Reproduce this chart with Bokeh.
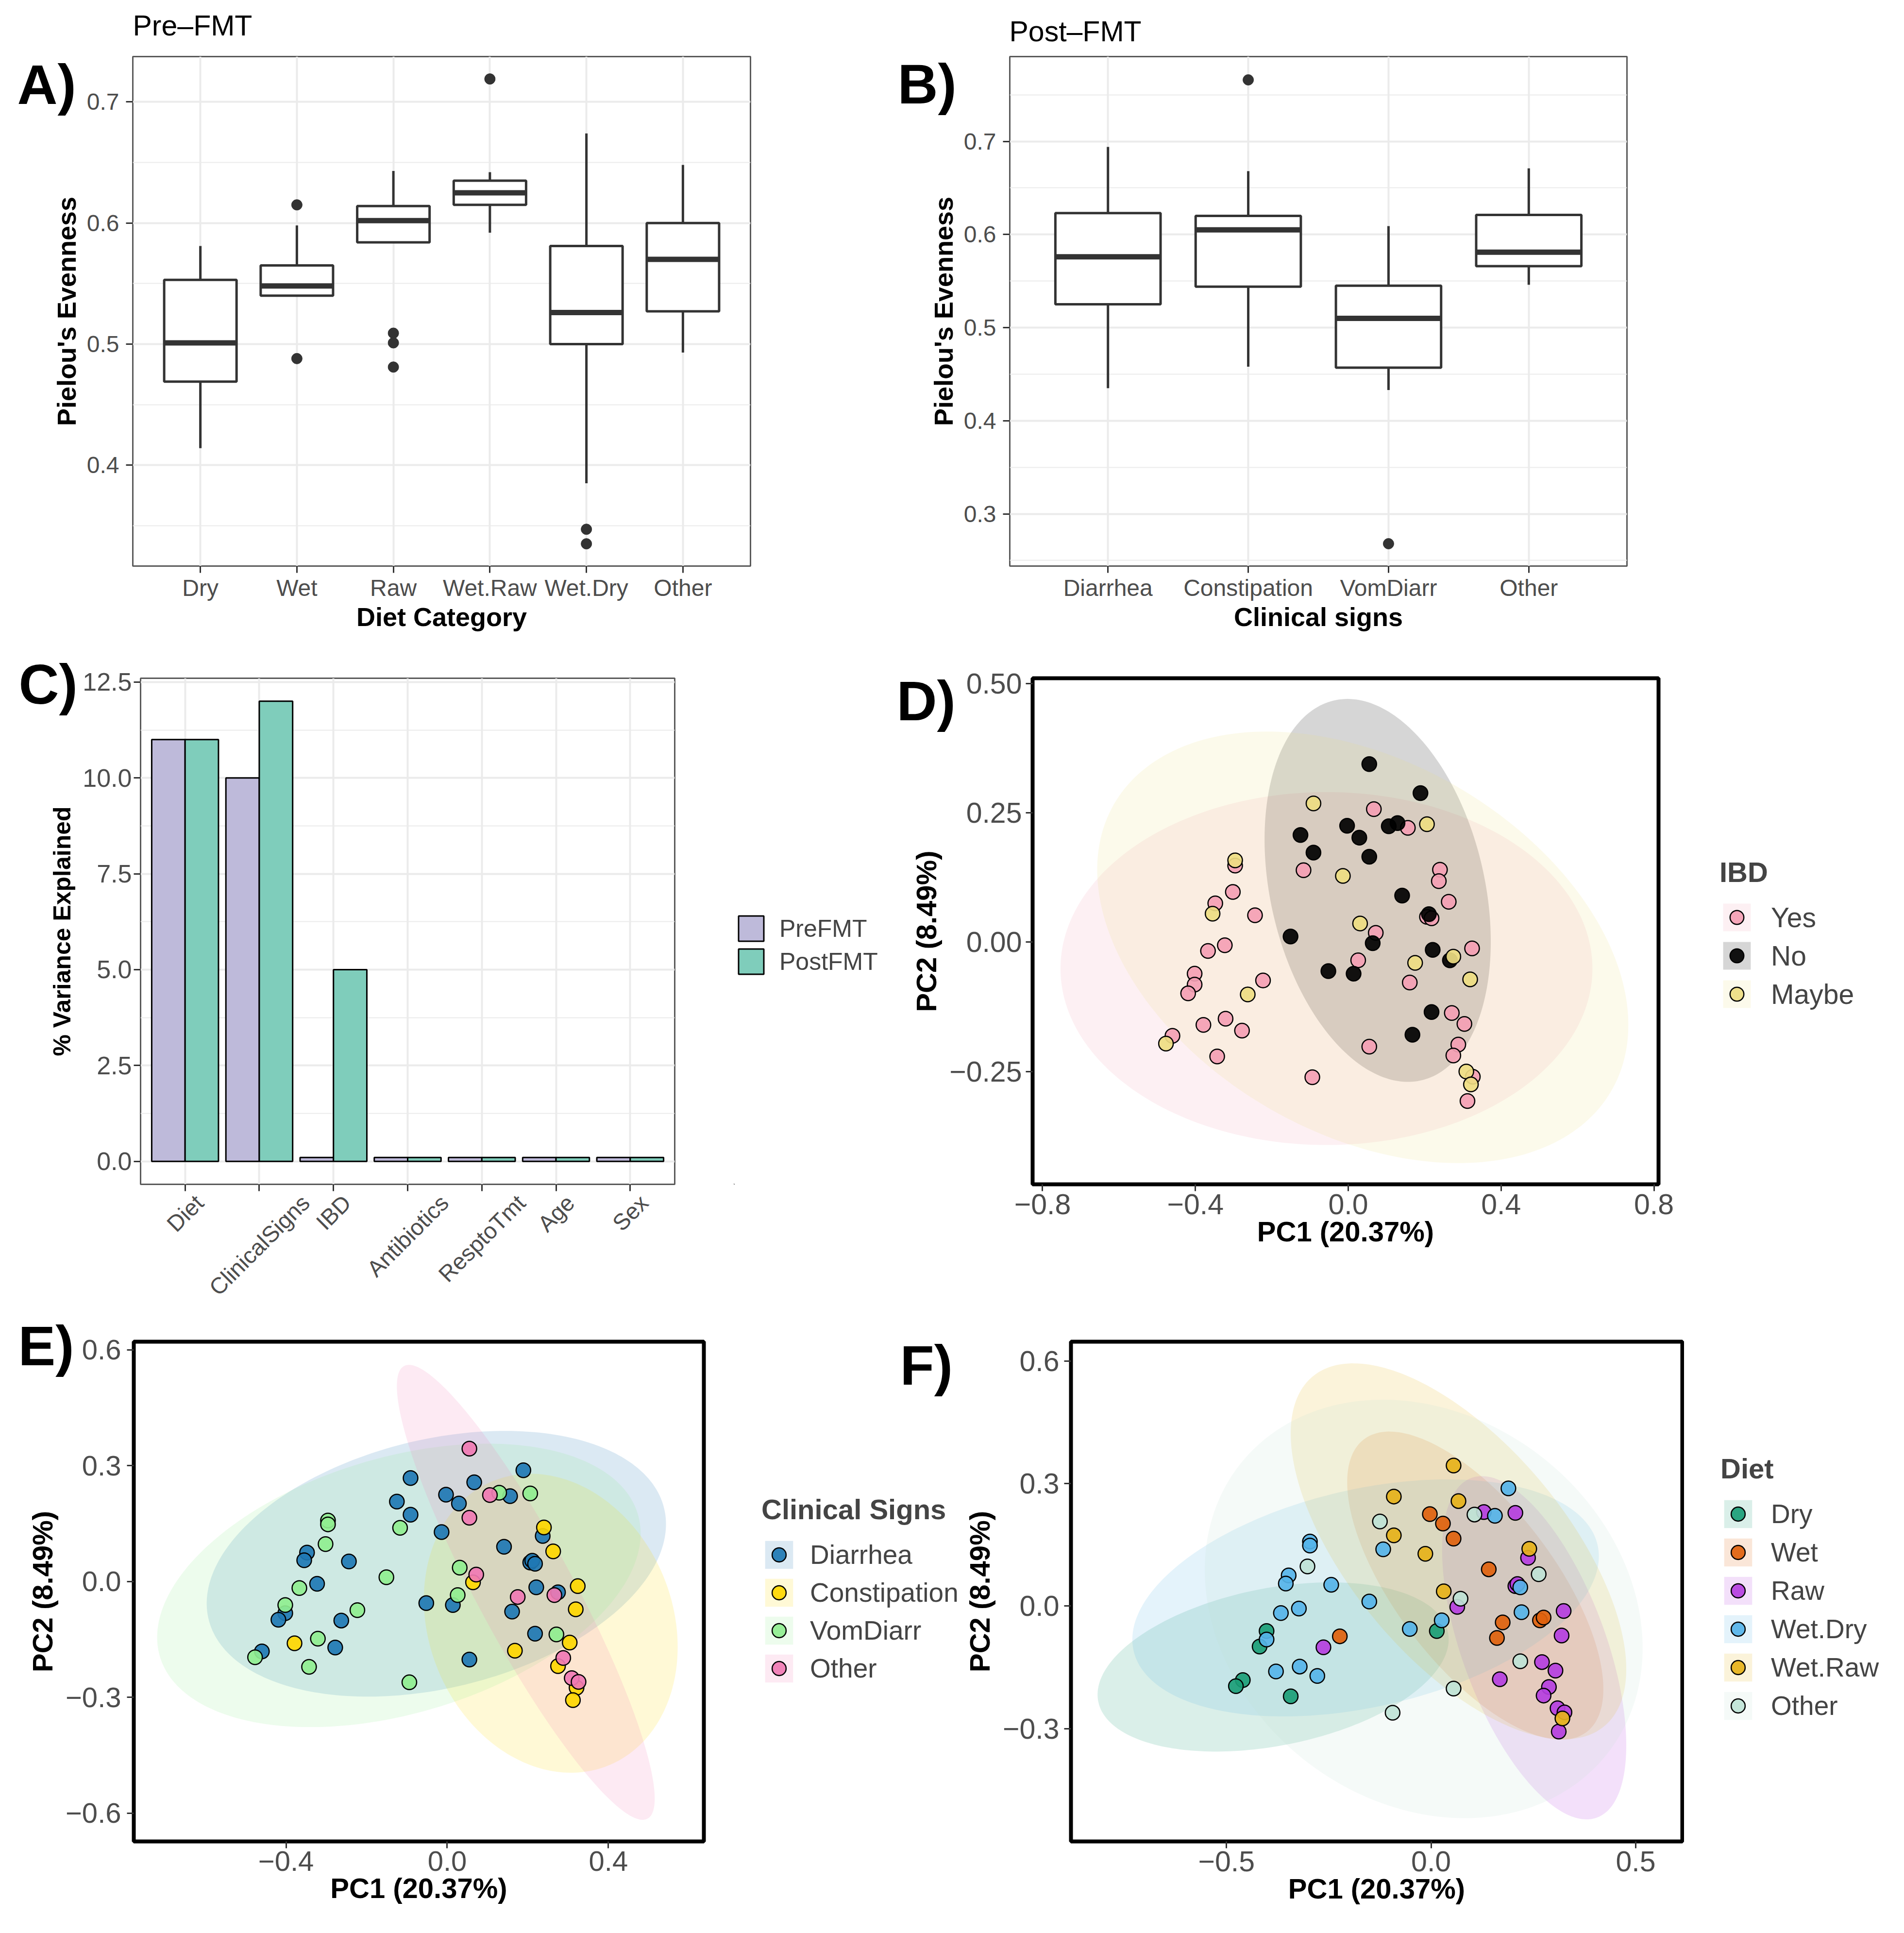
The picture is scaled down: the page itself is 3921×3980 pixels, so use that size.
import numpy as np
from bokeh.plotting import figure
from bokeh.models import (FactorRange, Range1d, FixedTicker, Label, Legend, LegendItem,
                          LinearAxis)
from bokeh.layouts import row, column
from bokeh.embed import file_html
from bokeh.resources import INLINE

FONT = "Liberation Sans"
MINUS = "\u2212"

# ---------------- Panel A data: Pre-FMT evenness by diet ----------------
diet_cats = ["Dry", "Wet", "Raw", "Wet.Raw", "Wet.Dry", "Other"]
a_low = [0.414, 0.540, 0.584, 0.592, 0.385, 0.493]
a_q1 = [0.469, 0.540, 0.584, 0.615, 0.500, 0.527]
a_med = [0.501, 0.548, 0.602, 0.625, 0.526, 0.570]
a_q3 = [0.553, 0.565, 0.614, 0.635, 0.581, 0.600]
a_high = [0.581, 0.598, 0.643, 0.642, 0.674, 0.648]
a_out_cat = ["Wet", "Wet", "Raw", "Raw", "Raw", "Wet.Raw", "Wet.Dry", "Wet.Dry"]
a_out_val = [0.615, 0.488, 0.509, 0.501, 0.481, 0.719, 0.347, 0.335]
a_yticks = [0.4, 0.5, 0.6, 0.7]
a_yminor = [0.35, 0.45, 0.55, 0.65]

# ---------------- Panel B data: Post-FMT evenness by clinical signs ----------------
clin_cats = ["Diarrhea", "Constipation", "VomDiarr", "Other"]
b_low = [0.435, 0.458, 0.433, 0.546]
b_q1 = [0.525, 0.544, 0.457, 0.566]
b_med = [0.576, 0.605, 0.510, 0.581]
b_q3 = [0.623, 0.620, 0.545, 0.621]
b_high = [0.694, 0.668, 0.609, 0.671]
b_out_cat = ["Constipation", "VomDiarr"]
b_out_val = [0.766, 0.268]
b_yticks = [0.3, 0.4, 0.5, 0.6, 0.7]
b_yminor = [0.25, 0.35, 0.45, 0.55, 0.65, 0.75]

# ---------------- Panel C data: % variance explained ----------------
c_vars = ["Diet", "ClinicalSigns", "IBD", "Antibiotics", "ResptoTmt", "Age", "Sex"]
c_pre = [11.0, 10.0, 0.1, 0.1, 0.1, 0.1, 0.1]
c_post = [11.0, 12.0, 5.0, 0.1, 0.1, 0.1, 0.1]
c_yticks = [0.0, 2.5, 5.0, 7.5, 10.0, 12.5]
c_ylabels = ["0.0", "2.5", "5.0", "7.5", "10.0", "12.5"]
c_yminor = [1.25, 3.75, 6.25, 8.75, 11.25]
c_series = ["PreFMT", "PostFMT"]
c_colors = ["#BEBADA", "#7FCDBB"]

# ---------------- Panels D-F data: PCoA samples ----------------
pc1 = [0.055, 0.189, -0.091, 0.067, 0.206, 0.106, 0.129, 0.156, -0.125, -0.003,
       0.029, -0.091, 0.055, -0.296, -0.296, -0.117, -0.014, 0.240, 0.237, -0.302,
       0.141, 0.263, -0.348, -0.355, -0.244, 0.206, 0.211, 0.218, 0.031, -0.151,
       0.072, -0.323, 0.064, -0.367, 0.324, 0.221, 0.266, 0.275, 0.175, 0.026,
       -0.052, 0.014, -0.402, 0.319, -0.223, 0.161, -0.402, -0.419, -0.263, 0.218,
       0.271, -0.321, 0.304, -0.379, -0.278, 0.168, -0.460, -0.477, 0.288, 0.055,
       -0.343, 0.275, 0.309, 0.326, -0.094, 0.321, 0.312]
pc2 = [0.344, 0.288, 0.268, 0.257, 0.228, 0.224, 0.230, 0.221, 0.207, 0.225,
       0.202, 0.173, 0.165, 0.158, 0.148, 0.139, 0.128, 0.140, 0.118, 0.097,
       0.090, 0.078, 0.075, 0.055, 0.052, 0.049, 0.054, 0.046, 0.036, 0.011,
       0.018, -0.006, -0.002, -0.017, -0.012, -0.015, -0.035, -0.028, -0.040, -0.035,
       -0.056, -0.061, -0.061, -0.072, -0.074, -0.078, -0.082, -0.099, -0.101, -0.135,
       -0.137, -0.148, -0.158, -0.160, -0.171, -0.179, -0.181, -0.196, -0.198, -0.202,
       -0.221, -0.219, -0.250, -0.260, -0.261, -0.275, -0.307]
ibd = ["No", "No", "Maybe", "Yes", "Maybe", "No", "No", "Yes", "No", "No",
       "No", "No", "No", "Maybe", "Yes", "Yes", "Maybe", "Yes", "Yes", "Yes",
       "No", "Yes", "Yes", "Maybe", "Yes", "Yes", "No", "Yes", "Maybe", "No",
       "Yes", "Yes", "No", "Yes", "Yes", "No", "No", "Maybe", "Maybe", "Yes",
       "No", "No", "Yes", "Maybe", "Yes", "Yes", "Yes", "Yes", "Maybe", "No",
       "Yes", "Yes", "Yes", "Yes", "Yes", "No", "Yes", "Maybe", "Yes", "Yes",
       "Yes", "Yes", "Maybe", "Yes", "Yes", "Maybe", "Yes"]
clin = ["Other", "Diarrhea", "Diarrhea", "Diarrhea", "VomDiarr", "Other", "VomDiarr", "Diarrhea", "Diarrhea", "Diarrhea",
        "Diarrhea", "Diarrhea", "Other", "VomDiarr", "VomDiarr", "VomDiarr", "Diarrhea", "Constipation", "Diarrhea", "VomDiarr",
        "Diarrhea", "Constipation", "Diarrhea", "Diarrhea", "Diarrhea", "Diarrhea", "Diarrhea", "Diarrhea", "VomDiarr", "VomDiarr",
        "Other", "Diarrhea", "Constipation", "VomDiarr", "Constipation", "Diarrhea", "Other", "Diarrhea", "Other", "VomDiarr",
        "Diarrhea", "Diarrhea", "VomDiarr", "Constipation", "VomDiarr", "Diarrhea", "Diarrhea", "Diarrhea", "Diarrhea", "Diarrhea",
        "VomDiarr", "VomDiarr", "Constipation", "Constipation", "Diarrhea", "Constipation", "Diarrhea", "VomDiarr", "Other", "Diarrhea",
        "VomDiarr", "Constipation", "Other", "Other", "VomDiarr", "Constipation", "Constipation"]
diet = ["Wet.Raw", "Wet.Dry", "Wet.Raw", "Wet.Raw", "Raw", "Other", "Raw", "Wet.Dry", "Other", "Wet",
        "Wet", "Wet.Raw", "Wet", "Wet.Dry", "Wet.Dry", "Wet.Dry", "Wet.Raw", "Wet.Raw", "Raw", "Other",
        "Wet", "Other", "Wet.Dry", "Wet.Dry", "Wet.Dry", "Raw", "Raw", "Wet.Dry", "Wet.Raw", "Wet.Dry",
        "Other", "Wet.Dry", "Raw", "Wet.Dry", "Raw", "Wet.Dry", "Wet", "Wet", "Wet", "Wet.Dry",
        "Wet.Dry", "Dry", "Dry", "Raw", "Wet", "Wet", "Wet.Dry", "Dry", "Raw", "Other",
        "Raw", "Wet.Dry", "Raw", "Wet.Dry", "Wet.Dry", "Raw", "Dry", "Dry", "Raw", "Other",
        "Dry", "Raw", "Raw", "Raw", "Other", "Wet.Raw", "Raw"]

# groups, colours, ellipse parameters (centre, half x/y extents, x-offset of the top point)
d_groups = ["Yes", "No", "Maybe"]
d_colors = ["#F4A0B4", "#000000", "#EEDD82"]
d_ell_cx = [-0.057, 0.077, 0.038]
d_ell_cy = [-0.051, 0.100, -0.010]
d_ell_rx = [0.696, 0.296, 0.695]
d_ell_ry = [0.341, 0.370, 0.417]
d_ell_topdx = [0.0, -0.079, -0.25]
d_xticks = [-0.8, -0.4, 0.0, 0.4, 0.8]
d_xlabels = [MINUS + "0.8", MINUS + "0.4", "0.0", "0.4", "0.8"]
d_yticks = [-0.25, 0.0, 0.25, 0.5]
d_ylabels = [MINUS + "0.25", "0.00", "0.25", "0.50"]

e_groups = ["Diarrhea", "Constipation", "VomDiarr", "Other"]
e_colors = ["#1F78B4", "#FFD700", "#90EE90", "#F07AB4"]
e_ell_cx = [-0.027, 0.257, -0.120, 0.195]
e_ell_cy = [0.046, -0.108, -0.010, -0.028]
e_ell_rx = [0.570, 0.315, 0.600, 0.320]
e_ell_ry = [0.344, 0.387, 0.367, 0.589]
e_ell_topdx = [0.17, -0.05, 0.22, -0.29]
e_xticks = [-0.4, 0.0, 0.4]
e_xlabels = [MINUS + "0.4", "0.0", "0.4"]
e_yticks = [-0.6, -0.3, 0.0, 0.3, 0.6]
e_ylabels = [MINUS + "0.6", MINUS + "0.3", "0.0", "0.3", "0.6"]

f_groups = ["Dry", "Wet", "Raw", "Wet.Dry", "Wet.Raw", "Other"]
f_colors = ["#1B9E77", "#E0620D", "#B53FE0", "#56B4E9", "#E6B21A", "#BFE3D6"]
f_ell_cx = [-0.386, 0.108, 0.252, -0.160, 0.067, -0.018]
f_ell_cy = [-0.149, 0.050, -0.102, 0.020, 0.134, -0.007]
f_ell_rx = [0.429, 0.313, 0.225, 0.570, 0.410, 0.535]
f_ell_ry = [0.207, 0.377, 0.420, 0.290, 0.460, 0.512]
f_ell_topdx = [0.14, -0.21, -0.128, 0.20, -0.257, -0.10]
f_xticks = [-0.5, 0.0, 0.5]
f_xlabels = [MINUS + "0.5", "0.0", "0.5"]
f_yticks = [-0.3, 0.0, 0.3, 0.6]
f_ylabels = [MINUS + "0.3", "0.0", "0.3", "0.6"]

PC1_TITLE = "PC1 (20.37%)"
PC2_TITLE = "PC2 (8.49%)"

LETTER_PX = 115
REG_W = {'A': .667, 'B': .667, 'C': .722, 'D': .722, 'I': .278, 'R': .722, 'S': .667,
         'T': .611, 'a': .556, 'b': .556, 'c': .5, 'e': .556, 'g': .556, 'i': .222,
         'l': .222, 'm': .833, 'n': .556, 'o': .556, 'p': .556, 'r': .333, 's': .5,
         't': .278, 'x': .5}

# off-canvas spot for the legend-only key glyphs (legend strips span 0..1)
HIDE = -10.0


# ---------------- helpers ----------------
def make_fig(w, h, xr, yr, bl, br, bt, bb):
    p = figure(width=w, height=h, x_range=xr, y_range=yr, output_backend="svg",
               toolbar_location=None, min_border_left=bl, min_border_right=br,
               min_border_top=bt, min_border_bottom=bb)
    p.background_fill_color = "white"
    p.border_fill_color = "white"
    return p


def legend_fig(w, h, bt, bb):
    # an axis-less strip whose frame holds a legend (and possibly a panel letter)
    p = figure(width=w, height=h, x_range=Range1d(0, 1), y_range=Range1d(0, 1),
               output_backend="svg", toolbar_location=None, x_axis_location=None,
               y_axis_location=None, min_border_left=0, min_border_right=0,
               min_border_top=bt, min_border_bottom=bb)
    p.grid.visible = False
    p.outline_line_color = None
    p.background_fill_color = "white"
    p.border_fill_color = "white"
    return p


def style_axes(p, tick_px, title_px, xstand=4, ystand=14, xlab_stand=0, ylab_stand=10):
    for ax in p.axis:
        ax.axis_line_color = None
        ax.major_tick_line_color = "#333333"
        ax.major_tick_line_width = 3
        ax.major_tick_out = 14
        ax.major_tick_in = 0
        ax.minor_tick_line_color = None
        ax.major_label_text_font = FONT
        ax.major_label_text_font_size = f"{tick_px}px"
        ax.major_label_text_color = "#4D4D4D"
        ax.axis_label_text_font = FONT
        ax.axis_label_text_font_size = f"{title_px}px"
        ax.axis_label_text_font_style = "bold"
        ax.axis_label_text_color = "black"
    p.xaxis.major_label_standoff = xstand
    p.yaxis.major_label_standoff = ystand
    p.xaxis.axis_label_standoff = xlab_stand
    p.yaxis.axis_label_standoff = ylab_stand


def style_bw(p, ticks, minor):
    p.outline_line_color = "#5A5A5A"
    p.outline_line_width = 3
    t = FixedTicker(ticks=ticks, minor_ticks=minor)
    p.yaxis.ticker = t
    p.ygrid.ticker = t
    p.grid.grid_line_color = "#EBEBEB"
    p.grid.grid_line_width = 4
    p.ygrid.minor_grid_line_color = "#EBEBEB"
    p.ygrid.minor_grid_line_width = 2


def style_pcoa(p, xt, xl, yt, yl):
    p.outline_line_color = "black"
    p.outline_line_width = 8
    p.grid.visible = False
    p.xaxis.ticker = FixedTicker(ticks=xt)
    p.yaxis.ticker = FixedTicker(ticks=yt)
    p.xaxis.major_label_overrides = dict(zip(xt, xl))
    p.yaxis.major_label_overrides = dict(zip(yt, yl))


def text_label(x, y, text, size, bold=False):
    return Label(x=x, y=y, x_units="screen", y_units="screen", text=text,
                 text_font=FONT, text_font_size=f"{size}px",
                 text_font_style="bold" if bold else "normal",
                 text_color="black", text_baseline="middle", text_align="left")


def side_text(p, side, x, y, text, size, bold=False):
    p.add_layout(text_label(x, y, text, size, bold), side)


def ellipse_xy(cx, cy, rx, ry, topdx, n=240):
    t = np.linspace(0, 2 * np.pi, n)
    phi = np.arccos(np.clip(topdx / rx, -1, 1))
    return cx + rx * np.cos(t), cy + ry * np.cos(t + phi)


def boxplot(p, cats, low, q1, med, q3, high, oc, ov):
    p.segment(x0=cats, y0=q3, x1=cats, y1=high, line_color="#333333", line_width=5)
    p.segment(x0=cats, y0=low, x1=cats, y1=q1, line_color="#333333", line_width=5)
    p.vbar(x=cats, width=0.75, bottom=q1, top=q3, fill_color="white",
           line_color="#333333", line_width=5)
    p.rect(x=cats, y=med, width=0.75, height=11, height_units="screen",
           fill_color="#333333", line_color=None)
    p.scatter(x=oc, y=ov, size=22, fill_color="#333333", line_color="#333333")


ELL_ALPHA = 0.16
PT_ALPHA = 0.92


def pcoa(p, groups, colors, key, cx, cy, rx, ry, tdx):
    arr_x = np.array(pc1)
    arr_y = np.array(pc2)
    keys = np.array(key)
    for i, g in enumerate(groups):
        ex, ey = ellipse_xy(cx[i], cy[i], rx[i], ry[i], tdx[i])
        p.patch(ex, ey, fill_color=colors[i], fill_alpha=ELL_ALPHA, line_color=None)
    for i, g in enumerate(groups):
        m = keys == g
        p.scatter(arr_x[m], arr_y[m], size=30, fill_color=colors[i], fill_alpha=PT_ALPHA,
                  line_color="black", line_width=2.5)


def pcoa_legend(lf, groups, colors, title, loc, glyph, spacing, lab_px, standoff):
    items = []
    for g, c in zip(groups, colors):
        bg = lf.patch(x=[HIDE, HIDE + 0.1, HIDE + 0.1], y=[HIDE, HIDE, HIDE + 0.1],
                      fill_color=c, fill_alpha=ELL_ALPHA, line_color=None)
        pt = lf.scatter(x=[HIDE], y=[HIDE], size=30, fill_color=c, fill_alpha=PT_ALPHA,
                        line_color="black", line_width=2.5)
        items.append(LegendItem(label=g, renderers=[bg, pt]))
    leg = Legend(items=items, location=loc, title=title, padding=0, margin=0,
                 spacing=spacing, glyph_width=glyph, glyph_height=glyph, label_height=glyph,
                 label_standoff=standoff, label_text_font=FONT, label_text_font_size=f"{lab_px}px",
                 title_text_font=FONT, title_text_font_size="58px",
                 title_text_font_style="bold", title_standoff=24,
                 border_line_color=None, background_fill_alpha=0)
    lf.add_layout(leg)


# ================= Row 1 : A, B =================
# A frame: left 281, right 1553, top 124, bottom 1173 (page px)
pA = make_fig(1800, 1322,
              FactorRange(factors=diet_cats, range_padding=0.2, range_padding_units="absolute"),
              Range1d(0.3166, 0.7375), 273, 255, 116, 157)
style_bw(pA, a_yticks, a_yminor)
boxplot(pA, diet_cats, a_low, a_q1, a_med, a_q3, a_high, a_out_cat, a_out_val)
pA.xaxis.axis_label = "Diet Category"
pA.yaxis.axis_label = "Pielou's Evenness"
style_axes(pA, 48, 54, xstand=4, ystand=14, xlab_stand=0, ylab_stand=9)
side_text(pA, "right", 43 - 1553, 1173 - 181, "A)", LETTER_PX, bold=True)
side_text(pA, "above", 0, 124 - 60, "Pre\u2013FMT", 59)

# B frame: left 2087, right 3358
pB = make_fig(2105, 1322,
              FactorRange(factors=clin_cats, range_padding=0.2, range_padding_units="absolute"),
              Range1d(0.244, 0.791), 279, 555, 116, 157)
style_bw(pB, b_yticks, b_yminor)
boxplot(pB, clin_cats, b_low, b_q1, b_med, b_q3, b_high, b_out_cat, b_out_val)
pB.xaxis.axis_label = "Clinical signs"
pB.yaxis.axis_label = "Pielou's Evenness"
style_axes(pB, 48, 54, xstand=4, ystand=14, xlab_stand=0, ylab_stand=9)
side_text(pB, "right", 1856 - 3358, 1173 - 180, "B)", LETTER_PX, bold=True)
side_text(pB, "above", -1, 124 - 72, "Post\u2013FMT", 59)

# ================= Row 2 : C, legend C, D, legend D =================
# frames: top 1404, bottom 2446 (page px); C frame left 297 right 1397
R2_H, R2_T, R2_B = 1380, 74, 264
C_FRAME_W = 1100
n_c = len(c_vars)
c_x = [i + 0.5 for i in range(n_c)]          # category centres on a numeric scale
pC = make_fig(1511, R2_H, Range1d(-0.1, n_c + 0.1), Range1d(-0.6, 12.6), 289, 122, R2_T, R2_B)
style_bw(pC, c_yticks, c_yminor)
pC.yaxis.major_label_overrides = dict(zip(c_yticks, c_ylabels))
xt_c = FixedTicker(ticks=c_x)
pC.xaxis.ticker = xt_c
pC.xgrid.ticker = xt_c
pC.xaxis.major_label_overrides = {x: "" for x in c_x}
pC.vbar(x=[x - 0.225 for x in c_x], top=c_pre, bottom=0, width=0.45,
        fill_color=c_colors[0], line_color="black", line_width=3)
pC.vbar(x=[x + 0.225 for x in c_x], top=c_post, bottom=0, width=0.45,
        fill_color=c_colors[1], line_color="black", line_width=3)
pC.yaxis.axis_label = "% Variance Explained"
style_axes(pC, 52, 50, xstand=0, ystand=4, xlab_stand=0, ylab_stand=11)
pC.xaxis.major_label_text_font_size = "1px"
C_LAB_PX = 47
px_per_unit = C_FRAME_W / (n_c + 0.2)
lab_pos = []
for i, name in enumerate(c_vars):
    w = sum(REG_W.get(ch, .55) for ch in name) * C_LAB_PX
    lab_pos.append(c_x[i] + 0.354 * w / px_per_unit)
lab_axis = LinearAxis(ticker=FixedTicker(ticks=lab_pos),
                      major_label_overrides=dict(zip(lab_pos, c_vars)))
lab_axis.major_tick_line_color = None
lab_axis.major_tick_out = 0
lab_axis.major_tick_in = 0
lab_axis.minor_tick_line_color = None
lab_axis.axis_line_color = None
lab_axis.major_label_orientation = np.pi / 4
lab_axis.major_label_standoff = 16
lab_axis.major_label_text_font = FONT
lab_axis.major_label_text_font_size = f"{C_LAB_PX}px"
lab_axis.major_label_text_color = "#4D4D4D"
pC.add_layout(lab_axis, "below")
side_text(pC, "right", 46 - 1397, 2446 - 1416, "C)", LETTER_PX, bold=True)

# legend strip for C: page x 1519 .. 1828
lC = legend_fig(309, R2_H, R2_T, R2_B)
c_items = []
for s, col in zip(c_series, c_colors):
    r = lC.vbar(x=[HIDE], top=[HIDE + 0.1], bottom=HIDE, width=0.45, fill_color=col,
                line_color="black", line_width=3)
    c_items.append(LegendItem(label=s, renderers=[r]))
lC.add_layout(Legend(items=c_items, location=(3, 2446 - 2020), padding=0, margin=0,
                     spacing=3, glyph_width=65, glyph_height=65, label_height=65,
                     label_standoff=26, label_text_font=FONT, label_text_font_size="50px",
                     border_line_color=None, background_fill_alpha=0))

# D frame: left 2134, right 3423 ; figure page x 1828 .. 3545
pD = make_fig(1717, R2_H, Range1d(-0.826, 0.812), Range1d(-0.468, 0.51), 306, 122, R2_T, R2_B)
style_pcoa(pD, d_xticks, d_xlabels, d_yticks, d_ylabels)
pcoa(pD, d_groups, d_colors, ibd, d_ell_cx, d_ell_cy, d_ell_rx, d_ell_ry, d_ell_topdx)
pD.xaxis.axis_label = PC1_TITLE
pD.yaxis.axis_label = PC2_TITLE
style_axes(pD, 59, 58, xstand=6, ystand=8, xlab_stand=0, ylab_stand=12)
side_text(pD, "right", 1854 - 3423, 2446 - 1450, "D)", LETTER_PX, bold=True)

# legend strip for D: page x 3545 .. 3913
lD = legend_fig(368, R2_H, R2_T, R2_B)
pcoa_legend(lD, d_groups, d_colors, "IBD", (4, 2446 - 2090), 71, 8, 57, 35)

# ================= Row 3 : E, legend E (+ letter F), F, legend F =================
# frames: top 2770, bottom 3799 ; E frame left 283 right 1457
R3_H, R3_T, R3_B = 1258, 60, 169
pE = make_fig(1565, R3_H, Range1d(-0.778, 0.637), Range1d(-0.673, 0.621), 275, 116, R3_T, R3_B)
style_pcoa(pE, e_xticks, e_xlabels, e_yticks, e_ylabels)
pcoa(pE, e_groups, e_colors, clin, e_ell_cx, e_ell_cy, e_ell_rx, e_ell_ry, e_ell_topdx)
pE.xaxis.axis_label = PC1_TITLE
pE.yaxis.axis_label = PC2_TITLE
style_axes(pE, 58, 58, xstand=6, ystand=12, xlab_stand=0, ylab_stand=12)
side_text(pE, "right", 45 - 1457, 3799 - 2778, "E)", LETTER_PX, bold=True)

# legend strip for E: page x 1573 .. 1985 ; also carries the "F)" letter
lE = legend_fig(412, R3_H, R3_T, R3_B)
pcoa_legend(lE, e_groups, e_colors, "Clinical Signs", (3, 3799 - 3479), 72, 6, 55, 28)
lE.add_layout(text_label(1861 - 1573, 3799 - 2818, "F)", LETTER_PX, bold=True))

# F frame: left 2213, right 3472 ; figure page x 1985 .. 3476
pF = make_fig(1491, R3_H, Range1d(-0.880, 0.614), Range1d(-0.576, 0.647), 228, 4, R3_T, R3_B)
style_pcoa(pF, f_xticks, f_xlabels, f_yticks, f_ylabels)
pcoa(pF, f_groups, f_colors, diet, f_ell_cx, f_ell_cy, f_ell_rx, f_ell_ry, f_ell_topdx)
pF.xaxis.axis_label = PC1_TITLE
pF.yaxis.axis_label = PC2_TITLE
style_axes(pF, 59, 58, xstand=6, ystand=10, xlab_stand=0, ylab_stand=12)

# legend strip for F: page x 3476 .. 3913
lF = legend_fig(437, R3_H, R3_T, R3_B)
pcoa_legend(lF, f_groups, f_colors, "Diet", (3551 - 3476, 3799 - 3556), 72, 7, 55, 32)

layout = column(row(pA, pB), row(pC, lC, pD, lD), row(pE, lE, pF, lF))
open("out.html", "w").write(file_html(layout, INLINE))
